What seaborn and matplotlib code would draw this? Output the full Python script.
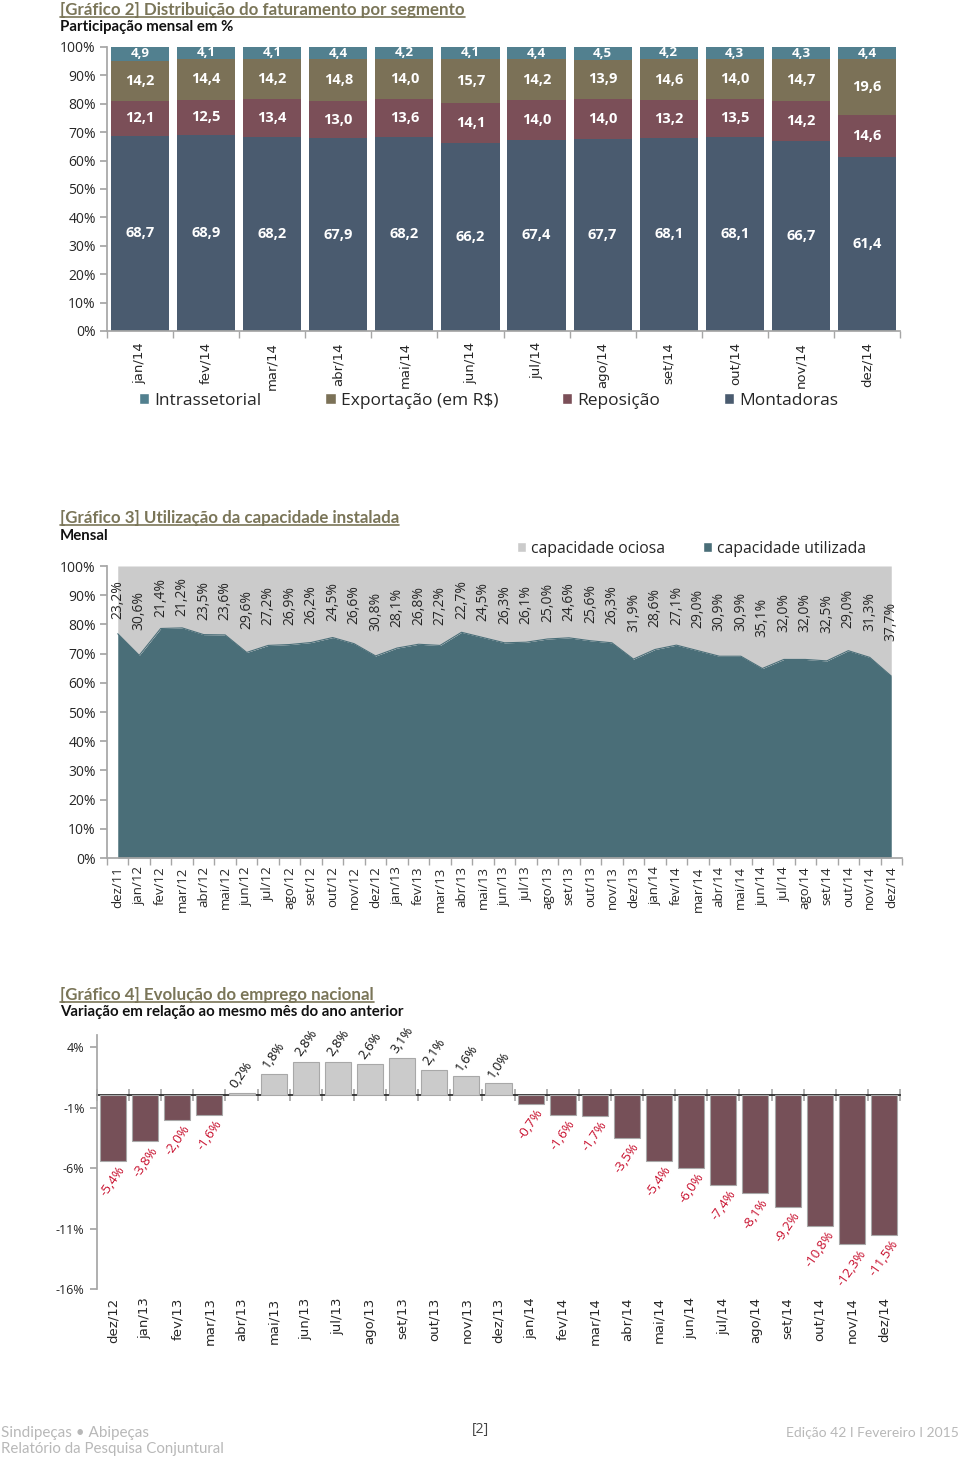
import numpy as np
import pandas as pd
import matplotlib
matplotlib.use("Agg")
import matplotlib.pyplot as plt
import seaborn as sns
from matplotlib.patches import Patch
from matplotlib.lines import Line2D

# ---------------- data ----------------
meses14 = ["jan/14", "fev/14", "mar/14", "abr/14", "mai/14", "jun/14",
           "jul/14", "ago/14", "set/14", "out/14", "nov/14", "dez/14"]
montadoras = [68.7, 68.9, 68.2, 67.9, 68.2, 66.2, 67.4, 67.7, 68.1, 68.1, 66.7, 61.4]
reposicao = [12.1, 12.5, 13.4, 13.0, 13.6, 14.1, 14.0, 14.0, 13.2, 13.5, 14.2, 14.6]
exportacao = [14.2, 14.4, 14.2, 14.8, 14.0, 15.7, 14.2, 13.9, 14.6, 14.0, 14.7, 19.6]
intrassetorial = [4.9, 4.1, 4.1, 4.4, 4.2, 4.1, 4.4, 4.5, 4.2, 4.3, 4.3, 4.4]

meses_cap = ["dez/11", "jan/12", "fev/12", "mar/12", "abr/12", "mai/12", "jun/12",
             "jul/12", "ago/12", "set/12", "out/12", "nov/12", "dez/12", "jan/13",
             "fev/13", "mar/13", "abr/13", "mai/13", "jun/13", "jul/13", "ago/13",
             "set/13", "out/13", "nov/13", "dez/13", "jan/14", "fev/14", "mar/14",
             "abr/14", "mai/14", "jun/14", "jul/14", "ago/14", "set/14", "out/14",
             "nov/14", "dez/14"]
ociosa = [23.2, 30.6, 21.4, 21.2, 23.5, 23.6, 29.6, 27.2, 26.9, 26.2, 24.5, 26.6, 30.8,
          28.1, 26.8, 27.2, 22.7, 24.5, 26.3, 26.1, 25.0, 24.6, 25.6, 26.3, 31.9,
          28.6, 27.1, 29.0, 30.9, 30.9, 35.1, 32.0, 32.0, 32.5, 29.0, 31.3, 37.7]

meses_emp = ["dez/12", "jan/13", "fev/13", "mar/13", "abr/13", "mai/13", "jun/13",
             "jul/13", "ago/13", "set/13", "out/13", "nov/13", "dez/13", "jan/14",
             "fev/14", "mar/14", "abr/14", "mai/14", "jun/14", "jul/14", "ago/14",
             "set/14", "out/14", "nov/14", "dez/14"]
emprego = [-5.4, -3.8, -2.0, -1.6, 0.2, 1.8, 2.8, 2.8, 2.6, 3.1, 2.1, 1.6, 1.0,
           -0.7, -1.6, -1.7, -3.5, -5.4, -6.0, -7.4, -8.1, -9.2, -10.8, -12.3, -11.5]

# ---------------- style ----------------
sns.set_theme(style="white")
plt.rcParams['font.family'] = ['Open Sans', 'DejaVu Sans']

W, H = 960, 1459
fig = plt.figure(figsize=(W / 100, H / 100), dpi=100)


def fx(px):
    return px / W


def fy(py):
    return 1 - py / H


AXC = '#A6A6A6'
TXT = '#262626'
TITLE_C = '#7A7558'

titles = []


def title_block(y_title, y_sub, title, sub):
    t = fig.text(fx(60), fy(y_title), title, color=TITLE_C, fontsize=12.2,
                 fontweight='bold', family=['Lato', 'DejaVu Sans'], va='center')
    fig.text(fx(60), fy(y_sub), sub, color='#111111', fontsize=10.8,
             fontweight='bold', family=['Lato', 'DejaVu Sans'], va='center')
    titles.append(t)


def fmt(v, pct=False):
    s = f"{v:.1f}".replace('.', ',')
    return s + ('%' if pct else '')


# =============== Chart 2: stacked 100% bars ===============
title_block(10, 27, "[Gráfico 2] Distribuição do faturamento por segmento",
            "Participação mensal em %")

df2 = pd.DataFrame({"mes": meses14, "Montadoras": montadoras, "Reposição": reposicao,
                    "Exportação (em R$)": exportacao, "Intrassetorial": intrassetorial})
series = ["Montadoras", "Reposição", "Exportação (em R$)", "Intrassetorial"]
cols2 = {"Montadoras": "#4A5B6F", "Reposição": "#7B4F58",
         "Exportação (em R$)": "#7B7157", "Intrassetorial": "#52808F"}
tot = df2[series].sum(axis=1)
shares = df2[series].div(tot, axis=0) * 100
cum = shares.cumsum(axis=1)

ax2 = fig.add_axes([fx(107), fy(331), fx(900 - 107), (331 - 47) / H])
for s in reversed(series):
    sns.barplot(x=df2["mes"], y=cum[s], color=cols2[s], width=0.88, saturation=1,
                linewidth=0, ax=ax2)
for s in series:
    bottoms = cum[s] - shares[s]
    fs = 9.5 if s == "Intrassetorial" else 10.5
    for i in range(len(meses14)):
        ax2.text(i, bottoms[i] + shares[s][i] / 2, fmt(df2[s][i]), ha='center',
                 va='center', color='white', fontsize=fs, fontweight='bold')
ax2.set_ylim(0, 100)
ax2.set_xlim(-0.5, len(meses14) - 0.5)
ax2.set_yticks(np.arange(0, 101, 10))
ax2.set_yticklabels([f"{v}%" for v in range(0, 101, 10)], fontsize=10, color=TXT)
ax2.set_xticks(np.arange(len(meses14)))
ax2.set_xticklabels(meses14, rotation=90, fontsize=9.5, color=TXT, family='DejaVu Sans')
ax2.set_xticks(np.arange(len(meses14) + 1) - 0.5, minor=True)
ax2.set_xlabel("")
ax2.set_ylabel("")
for sp in ["top", "right"]:
    ax2.spines[sp].set_visible(False)
for sp in ["left", "bottom"]:
    ax2.spines[sp].set_color(AXC)
ax2.tick_params(axis='x', which='major', bottom=True, length=0, pad=8)
ax2.tick_params(axis='x', which='minor', bottom=True, length=5, color=AXC)
ax2.tick_params(axis='y', left=True, length=5, color=AXC, pad=3)

h2 = [Patch(facecolor=cols2[s]) for s in ["Intrassetorial", "Exportação (em R$)",
                                          "Reposição", "Montadoras"]]
fig.legend(h2, ["Intrassetorial", "Exportação (em R$)", "Reposição", "Montadoras"],
           loc='center left', bbox_to_anchor=(fx(139), fy(401)), ncol=4, frameon=False,
           fontsize=12.5, handlelength=0.6, handleheight=0.6, handletextpad=0.3,
           columnspacing=3.65, borderaxespad=0, borderpad=0, labelcolor=TXT)

# =============== Chart 3: capacity area ===============
title_block(518, 536, "[Gráfico 3] Utilização da capacidade instalada", "Mensal")

utilizada = [100 - v for v in ociosa]
x3 = np.arange(len(meses_cap))
ax3 = fig.add_axes([fx(107), fy(858), fx(902 - 107), (858 - 566) / H])
ax3.stackplot(x3, utilizada, ociosa, colors=["#4A6E78", "#CBCBCB"], linewidth=0)
sns.lineplot(x=x3, y=utilizada, color="#4A6E78", linewidth=0.8, ax=ax3)
for i, v in enumerate(ociosa):
    ax3.text(i, 100 - v / 2, fmt(v, True), rotation=90, ha='center', va='center',
             fontsize=10, color=TXT)
ax3.set_xlim(-0.5, len(meses_cap) - 0.5)
ax3.set_ylim(0, 100)
ax3.set_yticks(np.arange(0, 101, 10))
ax3.set_yticklabels([f"{v}%" for v in range(0, 101, 10)], fontsize=10, color=TXT)
ax3.set_xticks(x3)
ax3.set_xticklabels(meses_cap, rotation=90, fontsize=9.5, color=TXT)
ax3.set_xticks(np.arange(len(meses_cap) + 1) - 0.5, minor=True)
for sp in ["top", "right"]:
    ax3.spines[sp].set_visible(False)
for sp in ["left", "bottom"]:
    ax3.spines[sp].set_color(AXC)
ax3.tick_params(axis='x', which='major', bottom=True, length=0, pad=6)
ax3.tick_params(axis='x', which='minor', bottom=True, length=5, color=AXC)
ax3.tick_params(axis='y', left=True, length=5, color=AXC, pad=3)

h3 = [Patch(facecolor="#CBCBCB"), Patch(facecolor="#4A6E78")]
fig.legend(h3, ["capacidade ociosa", "capacidade utilizada"], loc='center left',
           bbox_to_anchor=(fx(517), fy(549)), ncol=2, frameon=False, fontsize=11.3,
           handlelength=0.6, handleheight=0.6, handletextpad=0.3, columnspacing=2.4,
           borderaxespad=0, borderpad=0, labelcolor=TXT)

# =============== Chart 4: employment bars ===============
title_block(995, 1012, "[Gráfico 4] Evolução do emprego nacional",
            "Variação em relação ao mesmo mês do ano anterior")

ax4 = fig.add_axes([fx(97), fy(1289), fx(900 - 97), (1289 - 1035) / H])
pal4 = ["#CBCBCB" if v >= 0 else "#765058" for v in emprego]
sns.barplot(x=meses_emp, y=emprego, hue=meses_emp, palette=pal4, legend=False,
            width=0.81, saturation=1, edgecolor='#A8A8A8', linewidth=0.8, ax=ax4)
ymin, ymax = -16, 5
ax4.set_ylim(ymin, ymax)
ax4.set_xlim(-0.5, len(meses_emp) - 0.5)
for i, v in enumerate(emprego):
    if v >= 0:
        ax4.annotate(fmt(v, True), (i, v), xytext=(0, 2), textcoords='offset points',
                     rotation=55, ha='center', va='bottom', fontsize=9.5, color='#111111')
    else:
        ax4.annotate(fmt(v, True), (i, v), xytext=(0, -2), textcoords='offset points',
                     rotation=55, ha='center', va='top', fontsize=9.5, color='#C8102E')
yt4 = [4, -1, -6, -11, -16]
ax4.set_yticks(yt4)
ax4.set_yticklabels([f"{v}%" for v in yt4], fontsize=9, color=TXT)
ax4.set_xticks(np.arange(len(meses_emp)))
ax4.set_xticklabels(meses_emp, rotation=90, fontsize=9.5, color=TXT, family='DejaVu Sans')
ax4.set_xlabel("")
ax4.set_ylabel("")
for sp in ["top", "right", "bottom"]:
    ax4.spines[sp].set_visible(False)
ax4.spines["left"].set_color(AXC)
ax4.tick_params(axis='x', bottom=False, length=0, pad=6)
ax4.tick_params(axis='y', left=True, length=5, color=AXC, pad=4)
zero_loc = (0 - ymin) / (ymax - ymin)
sec = ax4.secondary_xaxis(zero_loc)
sec.set_xticks(np.arange(len(meses_emp) + 1) - 0.5)
sec.set_xticklabels([])
sec.tick_params(axis='x', direction='in', length=4, color=AXC, width=1.2, bottom=True)
sec.spines['bottom'].set_color(AXC)
sec.spines['bottom'].set_linewidth(1.6)

# =============== footer ===============
FOOT = '#B8B8B8'
fig.text(0.001, fy(1433), "Sindipeças • Abipeças", color=FOOT, fontsize=11, va='center',
         family=['Lato', 'DejaVu Sans'])
fig.text(0.001, fy(1449), "Relatório da Pesquisa Conjuntural", color=FOOT, fontsize=10.8,
         va='center', family=['Lato', 'DejaVu Sans'])
fig.text(fx(480), fy(1430), "[2]", color='#444444', fontsize=10, va='center', ha='center')
fig.text(0.999, fy(1433), "Edição 42 I Fevereiro I 2015", color=FOOT, fontsize=10,
         va='center', ha='right', family=['Lato', 'DejaVu Sans'])

# underline the titles
fig.canvas.draw()
r = fig.canvas.get_renderer()
inv = fig.transFigure.inverted()
for t in titles:
    bb = t.get_window_extent(r)
    (x0, y0), (x1, _) = inv.transform([(bb.x0, bb.y0 + 1), (bb.x1, bb.y0 + 1)])
    fig.add_artist(Line2D([x0, x1], [y0, y0], color=TITLE_C, linewidth=1.2,
                          transform=fig.transFigure))

fig.savefig("out.png", dpi=100, facecolor='white')
